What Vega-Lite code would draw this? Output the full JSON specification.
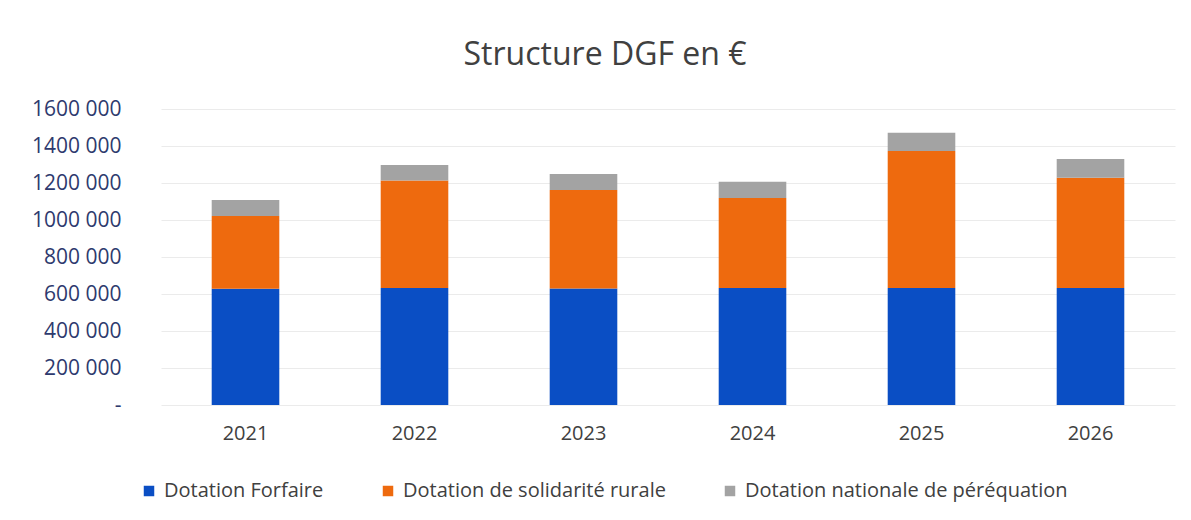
{
  "$schema": "https://vega.github.io/schema/vega-lite/v6.json",
  "autosize": "none",
  "width": 1014,
  "height": 296,
  "padding": {"left": 161, "top": 109, "right": 16, "bottom": 115},
  "background": "white",
  "title": {
    "text": "Structure DGF en €",
    "font": "Open Sans",
    "fontSize": 32,
    "fontWeight": "normal",
    "color": "#404040",
    "anchor": "middle",
    "frame": "group",
    "dx": -63,
    "offset": 26
  },
  "data": {
    "values": [
      {"annee": "2021", "serie": "Dotation Forfaire", "ordre": 1, "montant": 628000},
      {"annee": "2021", "serie": "Dotation de solidarité rurale", "ordre": 2, "montant": 394000},
      {"annee": "2021", "serie": "Dotation nationale de péréquation", "ordre": 3, "montant": 86000},
      {"annee": "2022", "serie": "Dotation Forfaire", "ordre": 1, "montant": 632000},
      {"annee": "2022", "serie": "Dotation de solidarité rurale", "ordre": 2, "montant": 581000},
      {"annee": "2022", "serie": "Dotation nationale de péréquation", "ordre": 3, "montant": 84000},
      {"annee": "2023", "serie": "Dotation Forfaire", "ordre": 1, "montant": 630000},
      {"annee": "2023", "serie": "Dotation de solidarité rurale", "ordre": 2, "montant": 532000},
      {"annee": "2023", "serie": "Dotation nationale de péréquation", "ordre": 3, "montant": 87000},
      {"annee": "2024", "serie": "Dotation Forfaire", "ordre": 1, "montant": 632000},
      {"annee": "2024", "serie": "Dotation de solidarité rurale", "ordre": 2, "montant": 487000},
      {"annee": "2024", "serie": "Dotation nationale de péréquation", "ordre": 3, "montant": 88000},
      {"annee": "2025", "serie": "Dotation Forfaire", "ordre": 1, "montant": 632000},
      {"annee": "2025", "serie": "Dotation de solidarité rurale", "ordre": 2, "montant": 741000},
      {"annee": "2025", "serie": "Dotation nationale de péréquation", "ordre": 3, "montant": 99000},
      {"annee": "2026", "serie": "Dotation Forfaire", "ordre": 1, "montant": 632000},
      {"annee": "2026", "serie": "Dotation de solidarité rurale", "ordre": 2, "montant": 597000},
      {"annee": "2026", "serie": "Dotation nationale de péréquation", "ordre": 3, "montant": 101000}
    ]
  },
  "mark": {"type": "bar"},
  "encoding": {
    "x": {
      "field": "annee",
      "type": "nominal",
      "scale": {"paddingInner": 0.6, "paddingOuter": 0.3},
      "axis": {
        "title": null,
        "labelAngle": 0,
        "labelFont": "Open Sans",
        "labelFontSize": 20,
        "labelColor": "#404040",
        "labelPadding": 18,
        "ticks": false,
        "domain": false
      }
    },
    "y": {
      "field": "montant",
      "type": "quantitative",
      "stack": "zero",
      "scale": {"domain": [0, 1600000]},
      "axis": {
        "title": null,
        "values": [0, 200000, 400000, 600000, 800000, 1000000, 1200000, 1400000, 1600000],
        "labelExpr": "datum.value == 0 ? '-' : floor(datum.value / 1000) + ' 000'",
        "labelFont": "Open Sans",
        "labelFontSize": 21,
        "labelColor": "#2E3A6E",
        "labelPadding": 40,
        "ticks": false,
        "domain": false,
        "gridColor": "#EBEBEB",
        "gridWidth": 1
      }
    },
    "color": {
      "field": "serie",
      "type": "nominal",
      "sort": ["Dotation Forfaire", "Dotation de solidarité rurale", "Dotation nationale de péréquation"],
      "scale": {
        "domain": ["Dotation Forfaire", "Dotation de solidarité rurale", "Dotation nationale de péréquation"],
        "range": ["#0A4EC4", "#EE6A0E", "#A3A3A3"]
      },
      "legend": {
        "title": null,
        "orient": "none",
        "direction": "horizontal",
        "legendX": -22,
        "legendY": 372,
        "symbolType": "square",
        "symbolSize": 110,
        "symbolStrokeWidth": 0,
        "symbolOpacity": 1,
        "labelFont": "Open Sans",
        "labelFontSize": 20,
        "labelColor": "#404040",
        "labelOffset": 5,
        "columnPadding": 54,
        "labelLimit": 500
      }
    },
    "order": {"field": "ordre", "type": "quantitative"}
  },
  "config": {
    "view": {"stroke": null}
  }
}
